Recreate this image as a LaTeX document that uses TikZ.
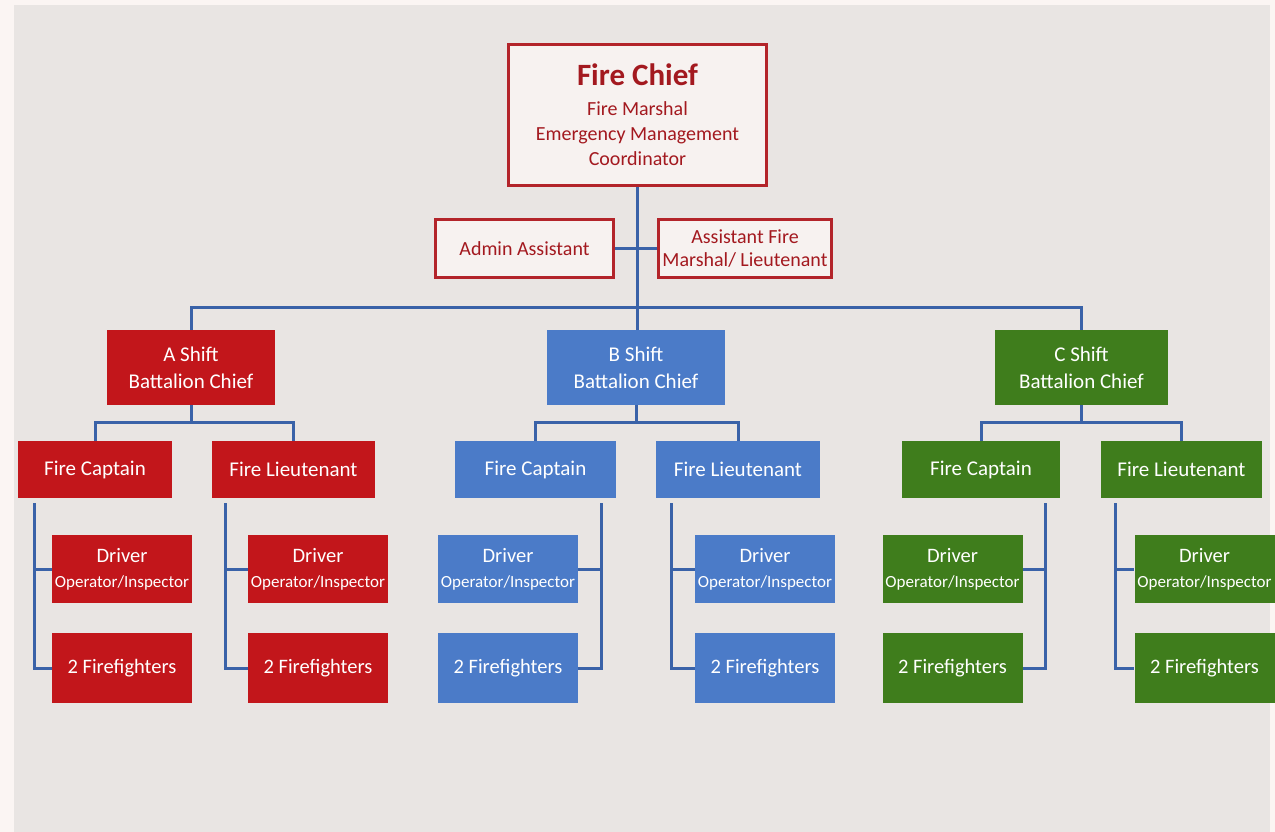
\documentclass[tikz,border=0pt]{standalone}
\usepackage{fontspec}
\setmainfont{Carlito}
\usetikzlibrary{positioning}
\definecolor{paper}{HTML}{E9E5E3}
\definecolor{frame}{HTML}{FBF5F3}
\definecolor{chiefred}{HTML}{B3242A}
\definecolor{chieftext}{HTML}{A3191F}
\definecolor{chieffill}{HTML}{F7F2F0}
\definecolor{shiftred}{HTML}{C2161B}
\definecolor{shiftblue}{HTML}{4B7BC8}
\definecolor{shiftgreen}{HTML}{3F7D1C}
\definecolor{linkblue}{HTML}{3A62A8}

\begin{document}
\begin{tikzpicture}[x=1pt,y=-1pt,
    outline/.style={draw=chiefred, line width=3pt, fill=chieffill, text=chieftext, align=center, inner sep=0pt, font=\fontsize{20}{23}\selectfont},
    unit/.style={fill=#1, text=white, align=center, inner sep=0pt, font=\fontsize{21}{27}\selectfont},
    bchief/.style={unit=#1, minimum height=75},
    rank/.style={unit=#1, minimum height=57},
    crew/.style={unit=#1, minimum width=140, minimum height=68, font=\fontsize{20.5}{25}\selectfont},
    ffbox/.style={unit=#1, minimum width=140, minimum height=70, font=\fontsize{20.5}{25}\selectfont},
    link/.style={draw=linkblue, line width=3pt}]
  % background
  \fill[frame] (0,0) rectangle (1275,832);
  \fill[paper] (14,5) rectangle (1270,832);
  % top
  \node[outline, minimum width=258, minimum height=141, font=\fontsize{20}{25}\selectfont] (chief) at (637.5,115)
    {{\fontsize{31}{34}\selectfont\bfseries Fire Chief}\\[5pt]Fire Marshal\\Emergency Management\\Coordinator};
  \node[outline, minimum width=178, minimum height=58] (admin) at (524.5,248.5) {Admin Assistant};
  \node[outline, minimum width=173, minimum height=58] (asst) at (745,248.5) {Assistant Fire\\Marshal/ Lieutenant};
  % battalion chiefs
  \node[bchief=shiftred, minimum width=168] (bcA) at (191,367.5) {A Shift\\Battalion Chief};
  \node[bchief=shiftblue, minimum width=178] (bcB) at (636,367.5) {B Shift\\Battalion Chief};
  \node[bchief=shiftgreen, minimum width=173] (bcC) at (1081.5,367.5) {C Shift\\Battalion Chief};
  % captains and lieutenants
  \node[rank=shiftred, minimum width=154] (capA) at (95,469.5) {Fire Captain};
  \node[rank=shiftred, minimum width=163] (ltA) at (293.5,469.5) {Fire Lieutenant};
  \node[rank=shiftblue, minimum width=161] (capB) at (535.5,469.5) {Fire Captain};
  \node[rank=shiftblue, minimum width=164] (ltB) at (738,469.5) {Fire Lieutenant};
  \node[rank=shiftgreen, minimum width=158] (capC) at (981,469.5) {Fire Captain};
  \node[rank=shiftgreen, minimum width=161] (ltC) at (1181.5,469.5) {Fire Lieutenant};
  % crews
  \foreach \u/\x/\c in {A1/122/shiftred, A2/318/shiftred, B1/508/shiftblue, B2/765/shiftblue, C1/952.5/shiftgreen, C2/1204.5/shiftgreen} {
    \node[crew=\c] (drv\u) at (\x,569) {Driver\\{\fontsize{17}{18}\selectfont Operator/Inspector}};
    \node[ffbox=\c] (ff\u) at (\x,668) {2 Firefighters};
  }
  % connectors
  \coordinate (bus) at (637,307);
  \draw[link] (chief.south) -- (chief.south |- bcB.north);
  \draw[link] (bcA) |- (bus) -| (bcC);
  \draw[link] (admin) -- (asst);
  \foreach \s/\x in {A/191, B/636, C/1081.5} {
    \coordinate (j\s) at (\x,422);
    \draw[link] (bc\s) -- (j\s);
    \draw[link] (cap\s) |- (j\s) -| (lt\s);
  }
  \foreach \u/\x in {A1/34, A2/225, B1/601, B2/671, C1/1045, C2/1115} {
    \coordinate (t\u) at (\x,503);
    \draw[link] (t\u) |- (ff\u);
    \draw[link] (t\u |- drv\u) -- (drv\u);
  }
\end{tikzpicture}
\end{document}
